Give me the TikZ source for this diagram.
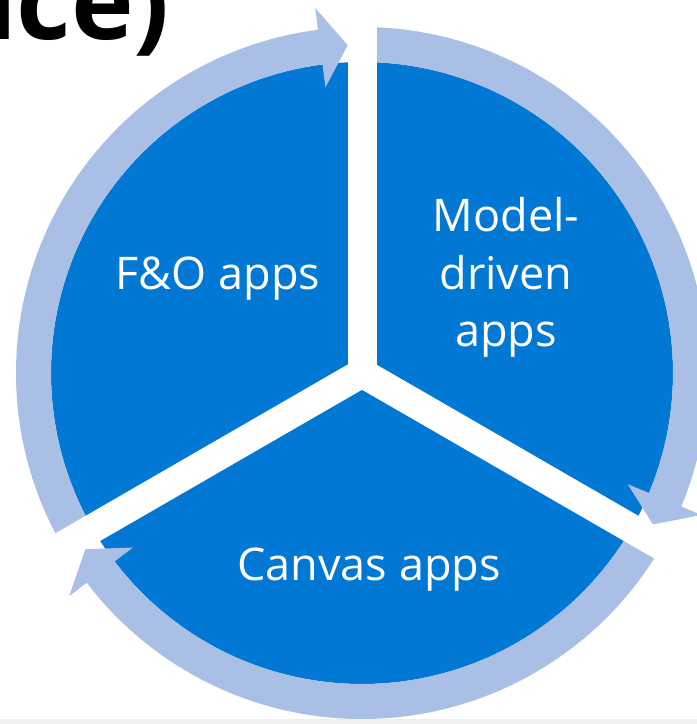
\documentclass[tikz,border=0pt]{standalone}
\usepackage{fontspec}
\setmainfont{Open Sans}
\definecolor{pieblue}{HTML}{0078D4}
\definecolor{ringblue}{HTML}{AABFE5}
\definecolor{stripgray}{HTML}{EFEFEF}
\tikzset{
  label text/.style={text=white, align=center, inner sep=0pt, font=\fontsize{45bp}{57.5bp}\selectfont},
  gapbar/.style={draw=white, line width=29bp, line cap=round},
  ringarrow/.style={fill=ringblue, draw=none}
}
% #1 tail angle, #2 head base angle, #3 tip angle
\newcommand{\cyclearrow}[3]{%
  \fill[ringarrow] (#1:346bp) arc[start angle=#1, end angle=#2, radius=346bp]
    -- (#2:368bp) -- (#3:328bp) -- (#2:288bp) -- (#2:311bp)
    arc[start angle=#2, end angle=#1, radius=311bp] -- cycle;}
\begin{document}
\begin{tikzpicture}[x=1bp,y=1bp]
\useasboundingbox (-362,-351) rectangle (335,373);
\clip (-362,-351) rectangle (335,373);
\fill[white] (-362,-351) rectangle (335,373);
% partial title
\node[anchor=base east, inner sep=0pt, font=\bfseries\fontsize{106bp}{106bp}\selectfont] (title) at (-192,333) {nce)};
% pie
\fill[pieblue] (0,0) circle[radius=311bp];
% cycle arrows
\cyclearrow{210}{97.3}{92.5}
\cyclearrow{90}{-22.7}{-27.5}
\cyclearrow{-30}{-142.7}{-147.5}
% gaps
\coordinate (c) at (0,0);
\coordinate (g1) at (90:420bp);
\coordinate (g2) at (-30:420bp);
\coordinate (g3) at (210:420bp);
\draw[gapbar] (c) -- (g1);
\draw[gapbar] (c) -- (g2);
\draw[gapbar] (c) -- (g3);
% labels
\node[label text, anchor=base] (fo) at (-144,83) {F\&O apps};
\node[label text, anchor=base] (md1) at (144,141) {Model-};
\node[label text, anchor=base] (md2) at (144,83) {driven};
\node[label text, anchor=base] (md3) at (144,26) {apps};
\node[label text, anchor=base] (cv) at (7,-207) {Canvas apps};
% bottom strip
\fill[stripgray] (-362,-351) rectangle (335,-345.5);
\end{tikzpicture}
\end{document}
